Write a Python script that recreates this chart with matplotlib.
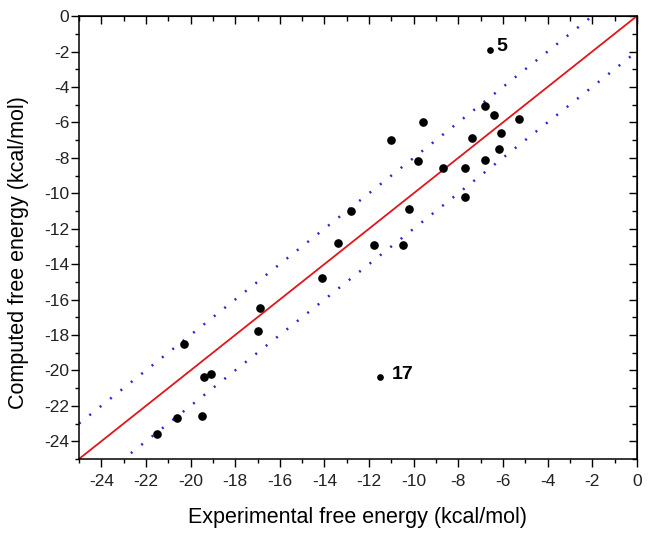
import numpy as np
import matplotlib
matplotlib.use("Agg")
import matplotlib.pyplot as plt
from matplotlib.ticker import MultipleLocator

plt.rcParams['font.family'] = ['Liberation Sans', 'DejaVu Sans']
plt.rcParams['axes.unicode_minus'] = False

# experimental vs computed free energies (kcal/mol)
exp_energy = [-6.8, -6.4, -5.3, -6.1, -7.4, -6.2, -6.8, -9.6, -11.0, -9.8,
              -8.7, -7.7, -7.7, -12.8, -10.2, -13.4, -11.8, -10.5, -14.1,
              -16.9, -17.0, -20.3, -19.4, -19.1, -20.6, -19.5, -21.5]
calc_energy = [-5.1, -5.6, -5.8, -6.6, -6.9, -7.5, -8.1, -6.0, -7.0, -8.2,
               -8.6, -8.6, -10.2, -11.0, -10.9, -12.8, -12.9, -12.9, -14.8,
               -16.5, -17.8, -18.5, -20.4, -20.2, -22.7, -22.6, -23.6]

# outliers, labelled
out_labels = ['5', '17']
out_exp = [-6.6, -11.5]
out_calc = [-1.9, -20.4]

diag = np.array([-25, 0])
band = 2.0

fig = plt.figure(figsize=(6.54, 5.36), dpi=100)
ax = fig.add_axes([0.1208, 0.1437, 0.853, 0.8263])

ax.plot(diag, diag, color='#e0161b', lw=1.3, zorder=2)
ax.plot(diag, diag + band, color='#2a2ac8', lw=1.8, ls=(0, (0.8, 4.5)), zorder=2)
ax.plot(diag, diag - band, color='#2a2ac8', lw=1.8, ls=(0, (0.8, 4.5)), zorder=2)

ax.plot(exp_energy, calc_energy, 'o', color='black', ms=5.2, zorder=3)
ax.plot(out_exp, out_calc, 'o', color='black', ms=3.8, zorder=3)
for lab, x, y in zip(out_labels, out_exp, out_calc):
    ax.annotate(lab, (x, y), xytext=(5 if lab == '5' else 8, 2),
                textcoords='offset points', va='center', ha='left',
                fontsize=14, fontweight='bold')

ax.set_xticks(np.arange(-24, 1, 2))
ax.set_yticks(np.arange(-24, 1, 2))
ax.xaxis.set_minor_locator(MultipleLocator(1))
ax.yaxis.set_minor_locator(MultipleLocator(1))
ax.set_xlim(-25, 0)
ax.set_ylim(-25, 0)

ax.tick_params(which='both', direction='out', top=False, right=False,
               labelsize=12.5, labelcolor='#222222', width=1)
ax.tick_params(which='major', length=5.5)
ax.tick_params(which='minor', length=3)
ax.tick_params(axis='x', which='major', pad=5)
ax.tick_params(axis='y', which='major', pad=1.5)

# inward ticks on the top and right side
secx = ax.secondary_xaxis('top')
secx.xaxis.set_major_locator(MultipleLocator(2))
secx.xaxis.set_minor_locator(MultipleLocator(1))
secx.tick_params(which='both', direction='in', labeltop=False, width=1)
secx.tick_params(which='major', length=6)
secx.tick_params(which='minor', length=3.5)
secy = ax.secondary_yaxis('right')
secy.yaxis.set_major_locator(MultipleLocator(2))
secy.yaxis.set_minor_locator(MultipleLocator(1))
secy.tick_params(which='both', direction='in', labelright=False, width=1)
secy.tick_params(which='major', length=6)
secy.tick_params(which='minor', length=3.5)

for s in ax.spines.values():
    s.set_linewidth(1.1)

ax.set_xlabel('Experimental free energy (kcal/mol)', fontsize=15.5, labelpad=13)
ax.set_ylabel('Computed free energy (kcal/mol)', fontsize=15.5, labelpad=11)
ax.yaxis.label.set_y(0.467)

fig.savefig('out.png', dpi=100)
